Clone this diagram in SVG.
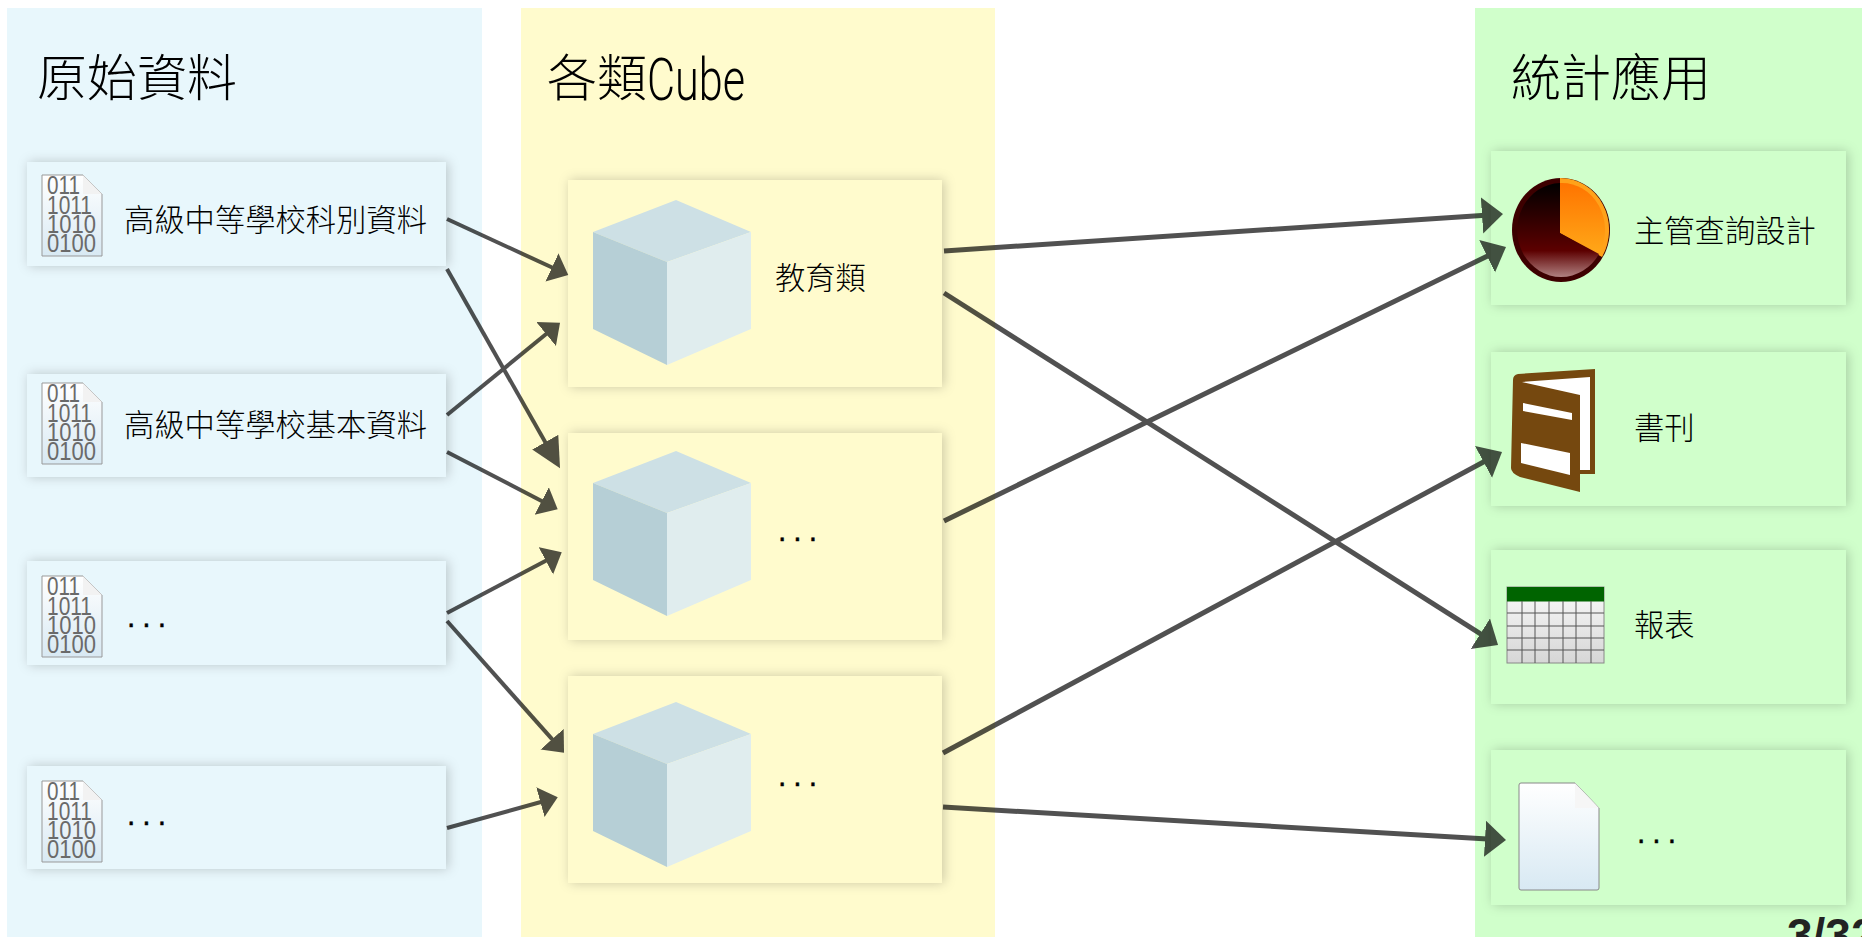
<svg xmlns="http://www.w3.org/2000/svg" width="1862" height="937" viewBox="0 0 1862 937">
<style>
.t{font-family:"Noto Sans CJK TC","Noto Sans CJK SC",sans-serif;font-weight:300;fill:#000}
.h{font-size:50px}
.l{font-size:30.300px}
.d{font-family:"Liberation Sans",sans-serif;font-size:30px;letter-spacing:7px;fill:#000;stroke:#000;stroke-width:.4px}
.b{font-family:"Liberation Sans",sans-serif;font-size:26px;fill:#6a6a6a}
.c1{fill:#e8f7fc}.c2{fill:#fffbcd}.c3{fill:#d0ffcb}
.k1{fill:#cde0e5}.k2{fill:#b6cfd6}.k3{fill:#e0edee}
.a1{stroke:#000;stroke-width:4;fill:none;marker-end:url(#ah1)}
.a3{stroke:#000;stroke-width:4;fill:none;marker-end:url(#ah3)}
.a2{stroke:#000;stroke-width:5;fill:none;marker-end:url(#ah2)}
</style>
<defs>
<filter id="sh" x="-10%" y="-20%" width="120%" height="140%"><feDropShadow dx="2" dy="0" stdDeviation="6" flood-color="#000" flood-opacity=".2"/></filter>
<marker id="ah1" markerUnits="userSpaceOnUse" markerWidth="20" markerHeight="33" refX="8" refY="16" orient="auto"><path d="M0 .5L18 16L0 31.500Z" fill="#000"/></marker>
<marker id="ah3" markerUnits="userSpaceOnUse" markerWidth="32" markerHeight="33" refX="20" refY="16" orient="auto"><path d="M0 1L30 16L0 31Z" fill="#000"/></marker>
<marker id="ah2" markerUnits="userSpaceOnUse" markerWidth="23" markerHeight="38" refX="11" refY="18" orient="auto"><path d="M0 0L21 18L0 36Z" fill="#000"/></marker>
<linearGradient id="gd" x1="0" y1="0" x2="0" y2="1"><stop offset="0" stop-color="#fff"/><stop offset="1" stop-color="#d8e9f3"/></linearGradient>
<linearGradient id="gt" x1="0" y1="0" x2="0" y2="1"><stop offset="0" stop-color="#fafafa"/><stop offset="1" stop-color="#d6d6d6"/></linearGradient>
<linearGradient id="gp" x1="0" y1="0" x2="0" y2="1"><stop offset="0" stop-color="#000"/><stop offset=".72" stop-color="#5c0000"/><stop offset="1" stop-color="#b08080"/></linearGradient>
<linearGradient id="go" x1="0" y1="0" x2="0" y2="1"><stop offset="0" stop-color="#ff7400"/><stop offset="1" stop-color="#ffa818"/></linearGradient>
<g id="bin">
<path d="M0 0H41L60 19V81H0Z" fill="url(#gd)" stroke="#999" stroke-width="1"/>
<path d="M41 0L60 19H41Z" fill="#f2f2f2"/>
<text class="b" x="5" y="19" textLength="33" lengthAdjust="spacingAndGlyphs">011</text>
<text class="b" x="5" y="39" textLength="45" lengthAdjust="spacingAndGlyphs">1011</text>
<text class="b" x="5" y="58" textLength="49" lengthAdjust="spacingAndGlyphs">1010</text>
<text class="b" x="5" y="77" textLength="49" lengthAdjust="spacingAndGlyphs">0100</text>
</g>
<g id="cube">
<path class="k1" d="M0 32L83 0L158 32L74 62Z"/>
<path class="k2" d="M0 32L74 62V165L0 129Z"/>
<path class="k3" d="M74 62L158 32V129L74 165Z"/>
</g>
</defs>

<g id="panels">
<rect class="c1" x="7" y="8" width="475" height="929"/>
<rect class="c2" x="521" y="8" width="474" height="929"/>
<rect class="c3" x="1475" y="8" width="387" height="929"/>
<text class="t h" x="37" y="96">原始資料</text>
<text class="t h" x="547" y="96">各類<tspan dy="4" font-family="Roboto" font-weight="300" font-size="60" textLength="98" lengthAdjust="spacingAndGlyphs">Cube</tspan></text>
<text class="t h" x="1511" y="96">統計應用</text>
</g>

<g id="src1"><rect class="c1" filter="url(#sh)" x="27" y="162" width="419" height="104"/><use href="#bin" x="42" y="175"/><text class="t l" x="124" y="231">高級中等學校科別資料</text></g>
<g id="src2"><rect class="c1" filter="url(#sh)" x="27" y="374" width="419" height="103"/><use href="#bin" x="42" y="383"/><text class="t l" x="124" y="436">高級中等學校基本資料</text></g>
<g id="src3"><rect class="c1" filter="url(#sh)" x="27" y="561" width="419" height="104"/><use href="#bin" x="42" y="576"/><text class="d" x="127" y="627">...</text></g>
<g id="src4"><rect class="c1" filter="url(#sh)" x="27" y="766" width="419" height="103"/><use href="#bin" x="42" y="781"/><text class="d" x="127" y="825">...</text></g>

<g id="cube1"><rect class="c2" filter="url(#sh)" x="568" y="180" width="374" height="207"/><use href="#cube" x="593" y="200"/><text class="t l" x="775" y="289">教育類</text></g>
<g id="cube2"><rect class="c2" filter="url(#sh)" x="568" y="433" width="374" height="207"/><use href="#cube" x="593" y="451"/><text class="d" x="778" y="541">...</text></g>
<g id="cube3"><rect class="c2" filter="url(#sh)" x="568" y="676" width="374" height="207"/><use href="#cube" x="593" y="702"/><text class="d" x="778" y="786">...</text></g>

<g id="app1"><rect class="c3" filter="url(#sh)" x="1491" y="151" width="355" height="154"/>
<ellipse cx="1561" cy="230" rx="49" ry="52" fill="#3d0000"/>
<path d="M1560 233V178A49 52 0 0 1 1602 257Z" fill="#ffa21a"/>
<path d="M1560 233V183A43 47 0 0 1 1599 254Z" fill="url(#go)"/>
<path d="M1560 233V183A44 47 0 1 0 1599 254Z" fill="url(#gp)"/>
<text class="t l" x="1634" y="242">主管查詢設計</text></g>

<g id="app2"><rect class="c3" filter="url(#sh)" x="1491" y="352" width="355" height="154"/>
<path d="M1518 374L1595 369V474H1580V492L1520 477Q1511 473 1511 468L1513 380Q1513 375 1518 374Z" fill="#75480f"/>
<path d="M1522 382L1590 377V470H1580V395Z" fill="#fff"/>
<path d="M1523 403L1572 413V420L1523 411Z" fill="#fff"/>
<path d="M1521 443L1570 453V475L1521 463Z" fill="#fff"/>
<text class="t l" x="1634" y="439">書刊</text></g>

<g id="app3"><rect class="c3" filter="url(#sh)" x="1491" y="550" width="355" height="154"/>
<rect x="1507" y="587" width="97" height="76" fill="url(#gt)" stroke="#888"/>
<rect x="1507" y="587" width="97" height="14.500" fill="#006400"/>
<path d="M1522 601V663M1535 601V663M1549 601V663M1563 601V663M1576 601V663M1591 601V663M1507 613H1604M1507 626H1604M1507 638H1604M1507 650H1604" stroke="#555" stroke-width="1" fill="none"/>
<text class="t l" x="1634" y="636">報表</text></g>

<g id="app4"><rect class="c3" filter="url(#sh)" x="1491" y="750" width="355" height="155"/>
<path d="M1521 783H1575L1599 808V888Q1599 890 1597 890H1521Q1519 890 1519 888V785Q1519 783 1521 783Z" fill="url(#gd)" stroke="#888" stroke-width="1"/>
<path d="M1575 783L1599 808H1575Z" fill="#f6f6f6"/>
<text class="d" x="1637" y="843">...</text></g>

<g id="connectors" opacity=".68">
<line class="a1" x1="447" y1="219" x2="559.200" y2="270.800"/>
<line class="a3" x1="447" y1="269" x2="555.100" y2="459.600"/>
<line class="a1" x1="447" y1="415" x2="552.300" y2="329"/>
<line class="a1" x1="447" y1="452" x2="548.800" y2="504.700"/>
<line class="a1" x1="447" y1="613" x2="552.900" y2="557"/>
<line class="a1" x1="447" y1="621" x2="557.400" y2="745.200"/>
<line class="a1" x1="447" y1="828" x2="548.100" y2="800"/>
<line class="a2" x1="944" y1="251" x2="1493" y2="214.700"/>
<line class="a2" x1="944" y1="293" x2="1489.600" y2="639.600"/>
<line class="a2" x1="944" y1="521" x2="1497" y2="251.400"/>
<line class="a2" x1="943" y1="753" x2="1493.200" y2="456.700"/>
<line class="a2" x1="943" y1="807" x2="1496" y2="839.400"/>
</g>

<text x="1787" y="951" font-family="Liberation Sans, sans-serif" font-size="46" font-weight="700" fill="#222">3/32</text>
</svg>
